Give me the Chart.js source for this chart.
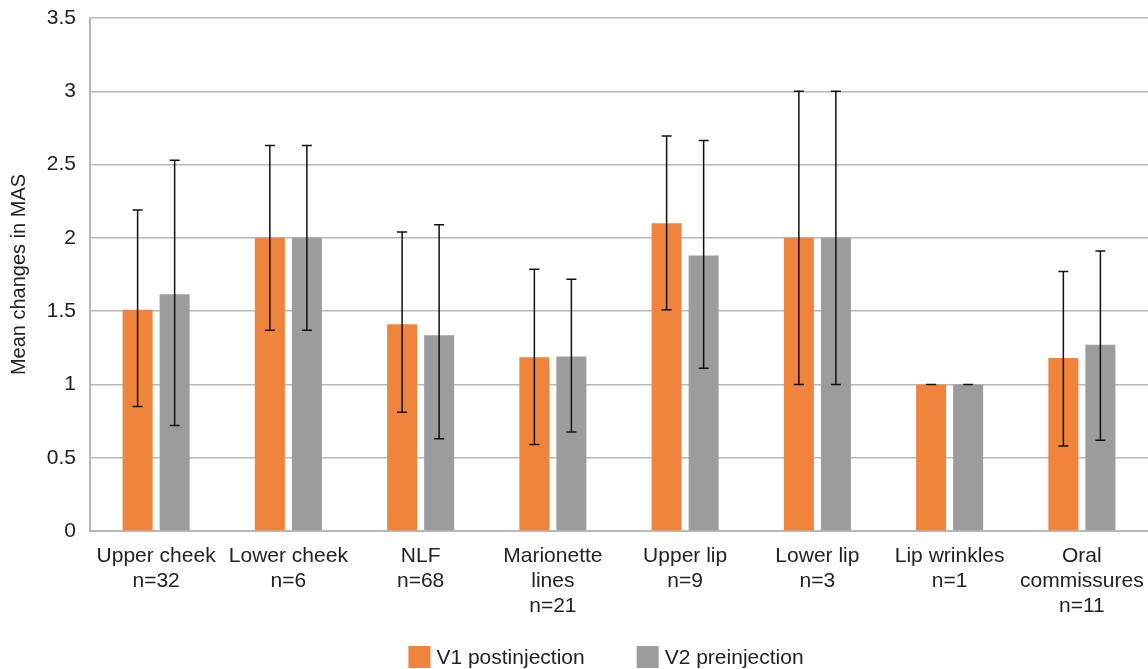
<!DOCTYPE html>
<html>
<head>
<meta charset="utf-8">
<script src="https://cdn.jsdelivr.net/npm/chart.js@4.4.0/dist/chart.umd.min.js"></script>
<style>
html,body{margin:0;padding:0;background:#fff;}
#wrap{width:1148px;height:669px;position:relative;}
</style>
</head>
<body>
<div id="wrap"><canvas id="c" width="1148" height="669"></canvas></div>
<script>
const categories = [
  ["Upper cheek","n=32"],
  ["Lower cheek","n=6"],
  ["NLF","n=68"],
  ["Marionette","lines","n=21"],
  ["Upper lip","n=9"],
  ["Lower lip","n=3"],
  ["Lip wrinkles","n=1"],
  ["Oral","commissures","n=11"]
];
const seriesNames = ["V1 postinjection","V2 preinjection"];
const v1Mean = [1.51, 2.00, 1.41, 1.185, 2.10, 2.00, 1.00, 1.18];
const v1Low  = [0.85, 1.37, 0.81, 0.59, 1.51, 1.00, 1.00, 0.58];
const v1High = [2.19, 2.63, 2.04, 1.785, 2.695, 3.00, 1.00, 1.77];
const v2Mean = [1.615, 2.00, 1.335, 1.19, 1.88, 2.00, 1.00, 1.27];
const v2Low  = [0.72, 1.37, 0.63, 0.675, 1.11, 1.00, 1.00, 0.62];
const v2High = [2.53, 2.63, 2.09, 1.717, 2.665, 3.00, 1.00, 1.91];
const yTicks = [0, 0.5, 1, 1.5, 2, 2.5, 3, 3.5];

const FONT = 'Liberation Sans, Arial, sans-serif';

const errorBars = {
  id: 'errorBars',
  afterDatasetsDraw(chart) {
    const ctx = chart.ctx;
    const y = chart.scales.y;
    const lows = [v1Low, v2Low], highs = [v1High, v2High];
    ctx.save();
    ctx.strokeStyle = '#111';
    ctx.lineWidth = 1.5;
    chart.data.datasets.forEach((ds, di) => {
      const meta = chart.getDatasetMeta(di);
      meta.data.forEach((bar, i) => {
        const x = bar.x;
        const yl = y.getPixelForValue(lows[di][i]);
        const yh = y.getPixelForValue(highs[di][i]);
        ctx.beginPath();
        ctx.moveTo(x, yl); ctx.lineTo(x, yh);
        ctx.moveTo(x - 5, yl); ctx.lineTo(x + 5, yl);
        ctx.moveTo(x - 5, yh); ctx.lineTo(x + 5, yh);
        ctx.stroke();
      });
    });
    ctx.restore();
  }
};

const bottomLegend = {
  id: 'bottomLegend',
  afterDraw(chart) {
    const ctx = chart.ctx;
    ctx.save();
    ctx.font = '21px ' + FONT;
    ctx.textBaseline = 'middle';
    ctx.textAlign = 'left';
    const box = 22, gapText = 6, gapItem = 52;
    const items = chart.data.datasets.map(ds => ({ text: ds.label, color: ds.backgroundColor, w: ctx.measureText(ds.label).width }));
    const total = items.reduce((s, it) => s + box + gapText + it.w, 0) + gapItem * (items.length - 1);
    let x = 606 - total / 2;
    const cy = 657;
    items.forEach(it => {
      ctx.fillStyle = it.color;
      ctx.fillRect(x, cy - box / 2, box, box);
      ctx.fillStyle = '#222';
      ctx.fillText(it.text, x + box + gapText, cy + 1);
      x += box + gapText + it.w + gapItem;
    });
    ctx.restore();
  }
};

new Chart(document.getElementById('c'), {
  type: 'bar',
  data: {
    labels: categories,
    datasets: [
      { label: seriesNames[0], data: v1Mean, backgroundColor: '#F0843C', barPercentage: 0.81, categoryPercentage: 0.56 },
      { label: seriesNames[1], data: v2Mean, backgroundColor: '#9A9C9D', barPercentage: 0.81, categoryPercentage: 0.56 }
    ]
  },
  options: {
    responsive: false,
    animation: false,
    devicePixelRatio: 1,
    layout: { padding: { left: 0, right: 0, top: 18, bottom: 38 } },
    plugins: {
      legend: { display: false },
      tooltip: { enabled: false }
    },
    scales: {
      x: {
        grid: { display: false, drawTicks: false },
        border: { color: '#b8b8b8', width: 2 },
        ticks: {
          color: '#222', padding: 13, maxRotation: 0, autoSkip: false,
          font: { family: FONT, size: 21, lineHeight: 1.19 }
        },
        afterFit(scale) { scale.height = 100; scale.paddingLeft = 0; scale.paddingRight = 0; }
      },
      y: {
        min: 0, max: 3.5,
        afterBuildTicks(scale) { scale.ticks = yTicks.map(v => ({ value: v })); },
        grid: { color: '#b8b8b8', lineWidth: 1.5, drawTicks: false },
        border: { color: '#b8b8b8', width: 2 },
        ticks: {
          color: '#222', padding: 14,
          font: { family: FONT, size: 21 },
          callback: v => String(v)
        },
        title: {
          display: true, text: 'Mean changes in MAS', color: '#222',
          font: { family: FONT, size: 20 }, padding: { top: 7, bottom: 0 }
        },
        afterFit(scale) { scale.width = 90; scale.paddingTop = 0; scale.paddingBottom = 0; }
      }
    }
  },
  plugins: [errorBars, bottomLegend]
});
</script>
</body>
</html>
